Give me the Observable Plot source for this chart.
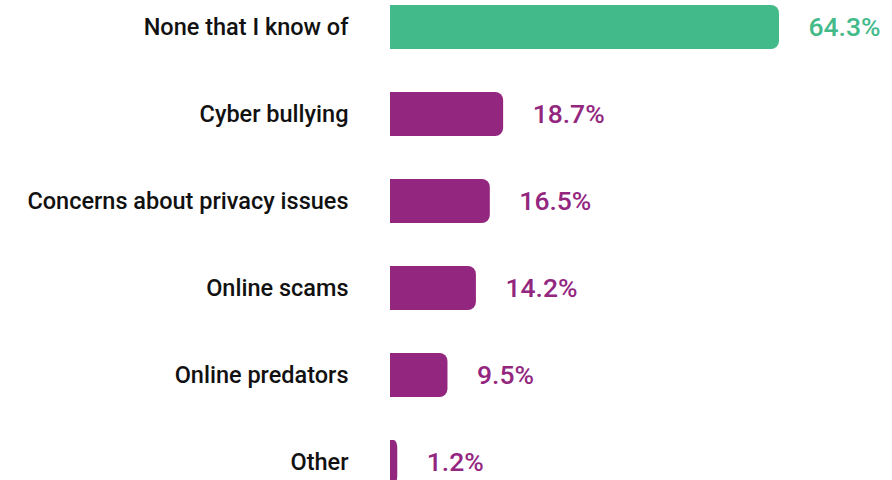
<!DOCTYPE html>
<html>
<head>
<meta charset="utf-8">
<script src="https://cdn.jsdelivr.net/npm/d3@7"></script>
<script src="https://cdn.jsdelivr.net/npm/@observablehq/plot@0.6"></script>
<style>
  html, body { margin: 0; padding: 0; background: #fff; overflow: hidden; }
  #chart svg { display: block; }
</style>
</head>
<body>
<div id="chart"></div>
<script>
const categories = ["None that I know of", "Cyber bullying", "Concerns about privacy issues", "Online scams", "Online predators", "Other"];
const values = [64.3, 18.7, 16.5, 14.2, 9.5, 1.2];
const valueLabels = ["64.3%", "18.7%", "16.5%", "14.2%", "9.5%", "1.2%"];
const highlight = ["None that I know of"];

const data = categories.map((c, i) => ({category: c, value: values[i], label: valueLabels[i], hi: highlight.includes(c)}));
const GREEN = "#43BA8A", PURPLE = "#93267F";
const col = d => d.hi ? GREEN : PURPLE;

const chart = Plot.plot({
  width: 892,
  height: 487,
  marginLeft: 390,
  marginRight: 113,
  marginTop: 5,
  marginBottom: 0,
  style: {fontFamily: "Roboto, sans-serif", background: "#fff"},
  x: {domain: [0, 64.3], axis: null},
  y: {domain: categories, paddingInner: 0.5, paddingOuter: 0, align: 0, label: null},
  marks: [
    Plot.barX(data, {x: "value", y: "category", fill: col, rx: 8}),
    Plot.barX(data, {x1: 0, x2: d => d.value / 2, y: "category", fill: col}),
    Plot.axisY({tickSize: 0, tickPadding: 42, fontSize: 23.5, fontWeight: 500, fill: "#111", label: null}),
    Plot.text(data, {x: "value", y: "category", text: "label", dx: 29, textAnchor: "start", fill: col, fontSize: 26.5, fontWeight: 500})
  ]
});
document.getElementById("chart").append(chart);
</script>
</body>
</html>
